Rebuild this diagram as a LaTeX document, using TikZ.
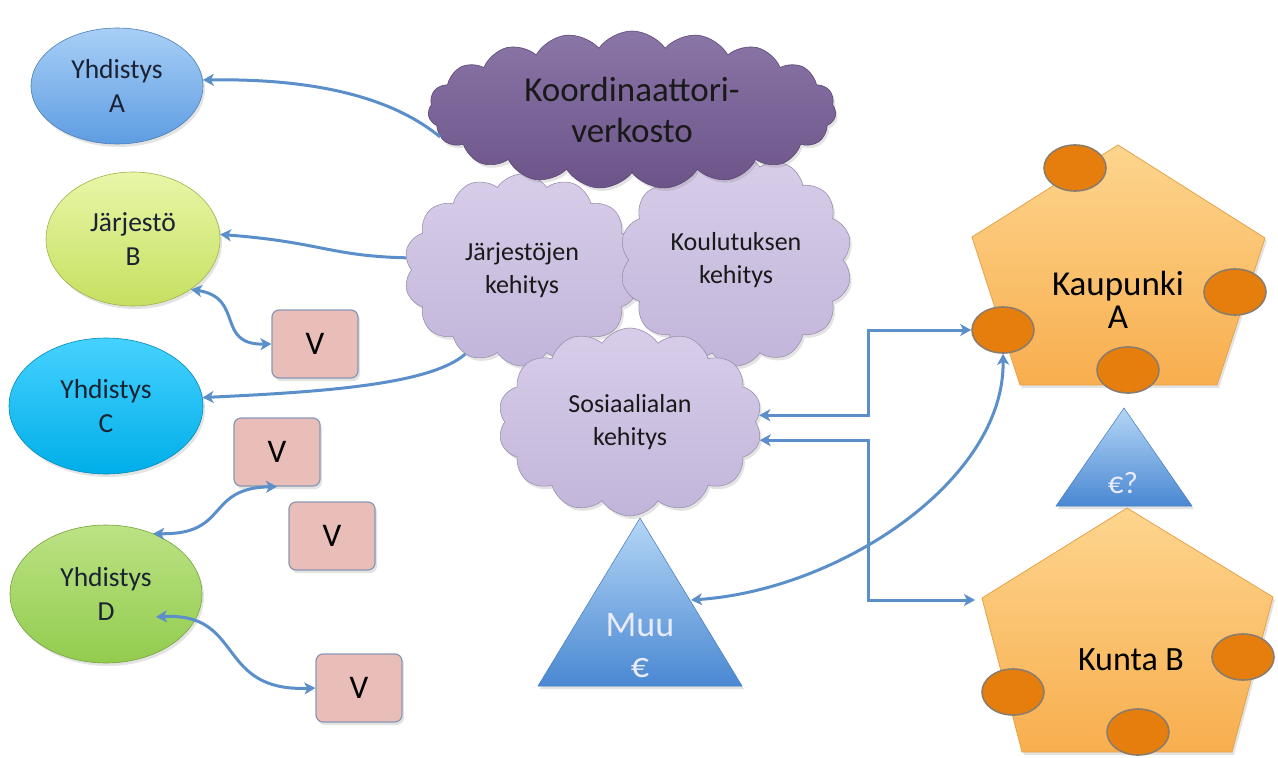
\documentclass[tikz,border=0pt]{standalone}
\usepackage{fontspec}
\setmainfont{Carlito}
\usetikzlibrary{shapes.symbols,shapes.geometric,arrows.meta,shadows,calc}

\definecolor{linkblue}{HTML}{5B8FCA}
\definecolor{aTop}{HTML}{A8CFF6}\definecolor{aBot}{HTML}{5E9DE2}
\definecolor{bTop}{HTML}{E8F6A8}\definecolor{bBot}{HTML}{C6E060}
\definecolor{cTop}{HTML}{46D2FF}\definecolor{cBot}{HTML}{00AEE8}
\definecolor{dTop}{HTML}{BCE284}\definecolor{dBot}{HTML}{92CC4E}
\definecolor{kTop}{HTML}{8B76A8}\definecolor{kBot}{HTML}{6C5488}
\definecolor{lTop}{HTML}{D8CDE9}\definecolor{lBot}{HTML}{C2B5DA}
\definecolor{vFill}{HTML}{E9BDB8}\definecolor{vLine}{HTML}{8898B4}
\definecolor{tTop}{HTML}{B4D6F6}\definecolor{tBot}{HTML}{4A88D2}
\definecolor{pTop}{HTML}{FDD58E}\definecolor{pBot}{HTML}{F8AE4E}
\definecolor{pLine}{HTML}{E6A24A}
\definecolor{dot}{HTML}{E67E0E}\definecolor{dotLine}{HTML}{8C7C6C}
\definecolor{ink}{HTML}{1A2233}

\tikzset{
  soft/.style={drop shadow={opacity=0.22, shadow xshift=2pt, shadow yshift=-3pt}},
  org/.style={ellipse, soft, draw=#1Bot!80!black, line width=0.6pt,
    top color=#1Top, bottom color=#1Bot, align=center, text=ink,
    font=\fontsize{27.5}{34}\selectfont},
  bigcloud/.style={cloud, cloud puffs=19, cloud puff arc=110, cloud ignores aspect,
    soft, draw=kBot!85!black, line width=0.6pt, top color=kTop, bottom color=kBot,
    align=center, text=black!90, font=\fontsize{35}{41}\selectfont},
  devcloud/.style={cloud, cloud puffs=14, cloud puff arc=115, cloud ignores aspect,
    soft, draw=lBot!80!black, line width=0.6pt, top color=lTop, bottom color=lBot,
    align=center, text=black!90, font=\fontsize{26}{33}\selectfont},
  vbox/.style={rectangle, rounded corners=7pt, soft, fill=vFill, draw=vLine,
    line width=1.2pt, minimum width=86pt, minimum height=68pt,
    font=\fontsize{33}{36}\selectfont, text=black},
  money/.style={soft, draw=tBot!90!black, line width=0.5pt, top color=tTop, bottom color=tBot},
  town/.style={soft, draw=pLine, line width=0.8pt, top color=pTop, bottom color=pBot},
  unit/.style={ellipse, fill=dot, draw=dotLine, line width=1.6pt,
    minimum width=62pt, minimum height=46pt, inner sep=0pt},
  conn/.style={draw=linkblue, line width=3pt,
    >={Stealth[length=11pt,width=12pt,inset=3pt]}},
}

\begin{document}
\begin{tikzpicture}[x=1pt,y=-1pt]
\useasboundingbox (0,0) rectangle (1278,758);

% organisations on the left
\node[org=a, minimum width=172pt, minimum height=116pt] (ya) at (117,86) {Yhdistys\\A};
\node[org=b, minimum width=174pt, minimum height=134pt] (jb) at (133,239) {Järjestö\\B};
\node[org=c, minimum width=194pt, minimum height=136pt] (yc) at (106,406) {Yhdistys\\C};
\node[org=d, minimum width=192pt, minimum height=138pt] (yd) at (106,594) {Yhdistys\\D};

% volunteer boxes
\node[vbox] (v1) at (315,344) {V};
\node[vbox] (v2) at (277,452) {V};
\node[vbox] (v3) at (332,536) {V};
\node[vbox] (v4) at (359,688) {V};

% development clouds
\node[devcloud, minimum width=236pt, minimum height=192pt] (jk) at (522,270) {Järjestöjen\\kehitys};
\node[devcloud, minimum width=232pt, minimum height=212pt] (kk) at (736,260) {Koulutuksen\\kehitys};
\node[bigcloud, minimum width=408pt, minimum height=158pt] (kv) at (632,110) {Koordinaattori-\\verkosto};
\node[devcloud, minimum width=264pt, minimum height=188pt] (sk) at (630,422) {Sosiaalialan\\kehitys};

% other funding
\path[money] (640,518) coordinate (muu-top) -- (742,686) -- (538,686) -- cycle;
\node[text=white!92!blue, align=center, font=\fontsize{36}{41}\selectfont] (muu) at (640,646) {Muu\\€};
\coordinate (muu-r) at (691,600);

% city A
\path[town] (1118,145) -- (1265,238) -- (1217,385) -- (1020,385) -- (972,237) -- cycle;
\node[align=center, text=black, font=\fontsize{35}{33}\selectfont] (ka) at (1118,300) {Kaupunki\\A};
\node[unit] (ka1) at (1075,168) {};
\node[unit] (ka2) at (1235,292) {};
\node[unit] (ka3) at (1003,330) {};
\node[unit] (ka4) at (1128,370) {};

% funding question
\path[money] (1124,408) -- (1192,506) -- (1056,506) -- cycle;
\node[text=white!92!blue, font=\fontsize{31}{34}\selectfont] (eq) at (1123,483) {€?};

% municipality B
\path[town] (1127,508) -- (1273,597) -- (1232,752) -- (1022,752) -- (982,598) -- cycle;
\coordinate (kb-l) at (975,600);
\node[text=black, font=\fontsize{34}{36}\selectfont] (kb) at (1131,660) {Kunta B};
\node[unit] (kb1) at (1243,657) {};
\node[unit] (kb2) at (1013,692) {};
\node[unit] (kb3) at (1138,732) {};

% connectors
\coordinate (bus) at (868,0);
\coordinate (yd-in) at (156,617);

\draw[conn,->] (kv.188) .. controls (405,108) and (340,78) .. (ya.4);
\draw[conn,->] (jk.174) .. controls (330,256) and (320,242) .. (jb.3);
\draw[conn,->] (jk.236) .. controls (430,385) and (320,392) .. (yc.5);
\draw[conn,<->] (jb.-41) .. controls (245,298) and (215,345) .. (v1.west);
\draw[conn,<->] (v2.south) .. controls (205,488) and (230,535) .. (yd.52);
\draw[conn,<->] (yd-in) .. controls (245,612) and (215,692) .. (v4.west);
\draw[conn,<->] (sk.3) -- (sk.3 -| bus) |- (ka3.west);
\draw[conn,<->] (sk.-8) -- (sk.-8 -| bus) |- (kb-l);
\draw[conn,<->] (muu-r) .. controls (840,590) and (1005,480) .. (ka3.south);
\end{tikzpicture}
\end{document}
